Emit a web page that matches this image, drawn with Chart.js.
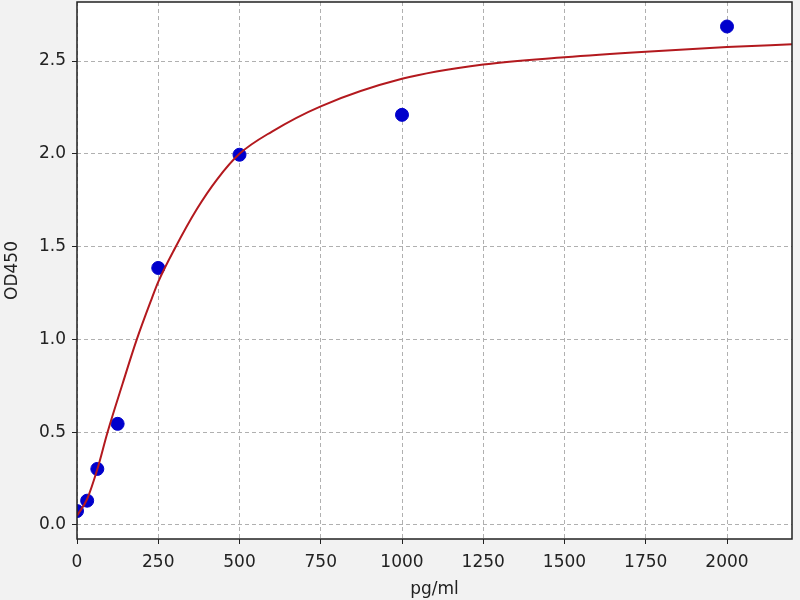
<!DOCTYPE html>
<html>
<head>
<meta charset="utf-8">
<script src="https://cdn.jsdelivr.net/npm/chart.js@4/dist/chart.umd.min.js"></script>
<style>
  html, body { margin: 0; padding: 0; background: #f2f2f2; }
  #wrap { width: 800px; height: 600px; }
</style>
</head>
<body>
<div id="wrap"><canvas id="curve"></canvas></div>
<script>
// --- DATA ---
const stdConc = [0, 31.25, 62.5, 125, 250, 500, 1000, 2000];
const stdOD = [0.075, 0.131, 0.302, 0.545, 1.385, 1.995, 2.21, 2.686];

// fitted curve
const fitConc = [0, 31.25, 62.5, 94, 140, 184, 230, 250, 301, 368, 430, 500, 600, 750, 1000, 1250, 1500, 1750, 2000, 2200];
const fitOD = [0.05, 0.14, 0.30, 0.50, 0.76, 1.0, 1.22, 1.31, 1.49, 1.70, 1.86, 2.0, 2.12, 2.256, 2.404, 2.481, 2.52, 2.55, 2.575, 2.59];

const xTicks = [0, 250, 500, 750, 1000, 1250, 1500, 1750, 2000];
const yTicks = [0, 0.5, 1.0, 1.5, 2.0, 2.5];

const FONT = { family: 'DejaVu Sans', size: 17 };

// white plot area + black frame
const frame = {
    id: 'frame',
    beforeDraw(chart) {
        const { ctx, chartArea: a } = chart;
        ctx.save();
        ctx.fillStyle = '#ffffff';
        ctx.fillRect(a.left, a.top, a.right - a.left, a.bottom - a.top);
        ctx.restore();
    },
    afterDraw(chart) {
        const { ctx, chartArea: a } = chart;
        ctx.save();
        ctx.strokeStyle = '#222';
        ctx.lineWidth = 1.5;
        ctx.strokeRect(a.left, a.top, a.right - a.left, a.bottom - a.top);
        ctx.restore();
    }
};

new Chart(document.getElementById('curve'), {
    type: 'scatter',
    data: {
        datasets: [
            {
                label: 'fit',
                data: fitConc.map((x, i) => ({ x, y: fitOD[i] })),
                showLine: true,
                borderColor: '#b3191e',
                borderWidth: 2,
                pointRadius: 0,
                cubicInterpolationMode: 'monotone',
                order: 0
            },
            {
                label: 'std',
                data: stdConc.map((x, i) => ({ x, y: stdOD[i] })),
                backgroundColor: '#0000cc',
                borderColor: '#0000cc',
                pointRadius: 6.5,
                order: 1
            }
        ]
    },
    options: {
        responsive: true,
        maintainAspectRatio: false,
        animation: false,
        layout: { autoPadding: false, padding: { top: 2, right: 8, left: 0, bottom: 0 } },
        plugins: { legend: { display: false }, tooltip: { enabled: false } },
        scales: {
            x: {
                type: 'linear',
                min: 0,
                max: 2200,
                afterBuildTicks: s => { s.ticks = xTicks.map(v => ({ value: v })); },
                afterFit: s => { s.height = 61; s.paddingLeft = 0; s.paddingRight = 0; },
                grid: { color: '#b0b0b0', tickColor: '#222', tickLength: 5, tickBorderDash: [] },
                border: { display: false, dash: [4, 3] },
                ticks: { color: '#222', font: FONT, padding: 8, maxRotation: 0, callback: v => String(v) },
                title: { display: true, text: 'pg/ml', color: '#222', font: FONT, padding: { top: 0, bottom: 0 } }
            },
            y: {
                type: 'linear',
                min: -0.0755,
                max: 2.818,
                afterBuildTicks: s => { s.ticks = yTicks.map(v => ({ value: v })); },
                afterFit: s => { s.width = 77; s.paddingTop = 0; s.paddingBottom = 0; },
                grid: { color: '#b0b0b0', tickColor: '#222', tickLength: 5, tickBorderDash: [] },
                border: { display: false, dash: [4, 3] },
                ticks: { color: '#222', font: FONT, padding: 6, callback: v => v.toFixed(1) },
                title: { display: true, text: 'OD450', color: '#222', font: FONT, padding: { top: 2, bottom: 0 } }
            }
        }
    },
    plugins: [frame]
});
</script>
</body>
</html>
